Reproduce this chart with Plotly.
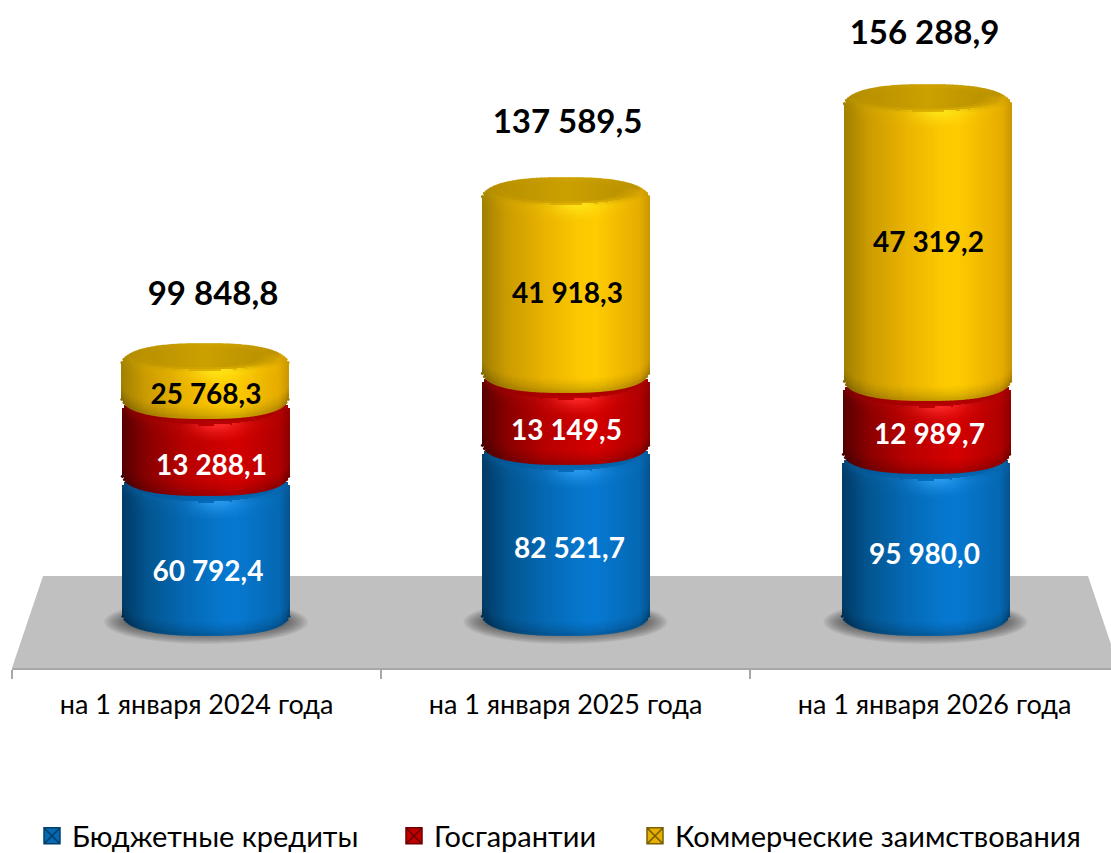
import numpy as np
import plotly.graph_objects as go

# ---------- data ----------
categories = ["на 1 января 2024 года", "на 1 января 2025 года", "на 1 января 2026 года"]
series_names = ["Бюджетные кредиты", "Госгарантии", "Коммерческие заимствования"]

# printed values
budget_loans = [60792.4, 82521.7, 95980.0]
guarantees = [13288.1, 13149.5, 12989.7]
commercial = [25768.3, 41918.3, 47319.2]
totals = [99848.8, 137589.5, 156288.9]

# The original picture is not drawn to scale (a 96k segment is shorter than an 82k one),
# so the segment heights are read off the picture separately, in axis units.
budget_drawn = [140, 171, 162]
guarantees_drawn = [77, 72, 73]
commercial_drawn = [74, 214, 315]

# ---------- styles / layout constants ----------
FONT = "Lato, 'Open Sans', 'Noto Sans', sans-serif"
W, H = 1111, 853
AXIS_PX = 668
LEFT_PX = 12
CAT_PX = 369
C0_PX = 196.5
BASE_Y = 33        # bottom of the stacks above the axis
HALF = 84          # half width of a cylinder
E = 24             # semi-minor axis of end ellipses
P = 2.5            # superellipse exponent of the silhouette
STRIP = 2
persp = [9.5, 0, -9]                       # perspective shift of each column
lean = [[0, -0.5, -1], [0, 0, 0], [0, 1, 2]]

palettes = [
    dict(stops=["#013a66", "#03558f", "#0569b4", "#0676cc", "#0779d2", "#0568b2", "#04528c"],
         cap="#0464ad", bright="#2a9cf0"),
    dict(stops=["#560000", "#8a0000", "#b80000", "#cc0000", "#d60000", "#b00000", "#8c0000"],
         cap="#b00000", bright="#ff2a2a"),
    dict(stops=["#a08000", "#cc9c00", "#eab400", "#fcc800", "#ffcc00", "#e6ac00", "#c89600"],
         cap="#cba000", bright="#ffe81a"),
]
stop_u = [-1.0, -0.7, -0.25, 0.15, 0.35, 0.88, 1.0]


def hex2rgb(h):
    return np.array([int(h[i:i + 2], 16) for i in (1, 3, 5)], float)


def horiz(pal, u):
    cols = np.array([hex2rgb(c) for c in pal["stops"]])
    return np.array([np.interp(u, stop_u, cols[:, k]) for k in range(3)])


def silhouette(u):
    return max(0.0, 1 - abs(u) ** P) ** (1 / P)


def shade(pal, u, y, yb, ci, a, bi):
    base = horiz(pal, u)
    capc = hex2rgb(pal["cap"]) * (0.88 + 0.12 * (1 - abs(u)))
    bright = hex2rgb(pal["bright"])
    col = base.copy()
    # bottom bevel
    db = y - yb
    if db < 14:
        col = col * (0.78 + 0.22 * (db / 14) ** 0.7)
    # front edge of the inner cap ellipse
    if abs(u) < a:
        y_front = ci - bi * np.sqrt(1 - (u / a) ** 2)
    else:
        y_front = ci
    if y > y_front - 18:
        r = np.hypot(u / a, (y - ci) / bi)
        if y >= ci:
            mix = 0.8 * np.clip((y - ci) / 4, 0, 1)     # upper back rim tends to cap colour
            col = col + (capc - col) * mix
        if y <= ci or r < 1:
            t = np.clip((1.15 - r) / 0.45, 0, 1)
            col = col + (capc - col) * t
        if y <= y_front + 3 and r >= 0.95:
            dt = max(0.0, y_front - y)
            k = max(0.0, 1 - dt / 18) ** 1.4
            glow = np.exp(-((u - 0.15) / 0.3) ** 2)
            col = col + (bright - col) * k * (0.85 * glow + 0.07)
    return col


def rgb(c):
    c = np.clip(c, 0, 255).astype(int)
    return f"rgb({c[0]},{c[1]},{c[2]})"


def segment_traces(ser_idx, lowest, top_y, rim, cx_unit, draw_top_edge):
    pal = palettes[ser_idx]
    cb = lowest + E
    ct = top_y - E
    a, bi = 0.9, rim / 2.0
    ci = top_y - bi
    xs, bases, hs, cols = [], [], [], []
    ex, ey, ec = [], [], []
    for px in np.arange(-HALF, HALF, STRIP):
        u = (px + STRIP / 2) / HALF
        s = silhouette(u)
        yb = round(cb - E * s)
        yt = round(ct + E * s)
        if abs(u) < a:
            y_front = ci - bi * np.sqrt(1 - (u / a) ** 2)
        else:
            y_front = ci
        ts = int(max(yb + 14, np.floor(y_front) - 20))
        edges = sorted({*range(int(yb), int(yb) + 14, 2), int(yb) + 14, *range(ts, int(yt), 2), int(yt)})
        edges = [e for e in edges if yb <= e <= yt]
        xc = cx_unit + (px + STRIP / 2) / CAT_PX
        for e0, e1 in zip(edges[:-1], edges[1:]):
            c = shade(pal, u, (e0 + e1) / 2, yb, ci, a, bi)
            xs.append(xc)
            bases.append(e0)
            hs.append(e1 - e0)
            cols.append(rgb(c))
        # anti-aliased dots along the visible edges
        ex.append(xc)
        ey.append(cb - E * s + 0.5)
        ec.append(rgb(shade(pal, u, cb - E * s + 1, cb - E * s, ci, a, bi)))
        if draw_top_edge:
            ex.append(xc)
            ey.append(ct + E * s - 0.5)
            ec.append(rgb(shade(pal, u, ct + E * s - 1, cb - E * s, ci, a, bi)))
    body = go.Bar(x=xs, y=hs, base=bases, width=STRIP / CAT_PX,
                  marker=dict(color=cols, line=dict(width=0)),
                  hoverinfo="skip", showlegend=False)
    edge = go.Scatter(x=ex, y=ey, mode="markers", marker=dict(size=3.2, color=ec, line=dict(width=0)),
                      hoverinfo="skip", showlegend=False)
    return body, edge


def fmt(v):
    return f"{v:,.1f}".replace(",", " ").replace(".", ",")


drawn = [budget_drawn, guarantees_drawn, commercial_drawn]
values = [budget_loans, guarantees, commercial]
fig = go.Figure()

shapes = []
# floor
to_x = lambda p: (p - C0_PX) / CAT_PX
to_y = lambda p: AXIS_PX - p
shapes.append(dict(type="path", layer="below", xref="x", yref="y", line=dict(width=0), fillcolor="#c0c0c0",
                   path=f"M {to_x(12)} 0 L {to_x(43)} {to_y(576)} L {to_x(1088)} {to_y(576)} L {to_x(1119)} 0 Z"))
# shadows under the stacks
for i in range(3):
    cx = i + persp[i] / CAT_PX
    for k in range(12):
        rx = 102 - k * 2.0
        ry = 22 - k * 1.0
        shapes.append(dict(type="circle", layer="below", xref="x", yref="y", line=dict(width=0),
                           fillcolor="#303030", opacity=0.075,
                           x0=cx - rx / CAT_PX, x1=cx + rx / CAT_PX, y0=46 - ry, y1=46 + ry))

lab_x, lab_y, lab_t, lab_c = [], [], [], []
# label nudges from the segment's lowest edge (x px, y px)
nudge = [[(2, 61), (6, 27), (1, 21)],
         [(4, 84), (1, 31), (2, 96)],
         [(-1, 78), (3, 36), (1, 155)]]
total_x_nudge = [7, 2, -1]
total_y_nudge = [47, 53, 49]

edge_traces = []
for i in range(3):
    cum = BASE_Y
    lows = []
    for s in range(3):
        lows.append(cum)
        cum += drawn[s][i]
    top = cum
    for s in range(3):
        cx = i + (persp[i] + lean[i][s]) / CAT_PX
        if s < 2:
            # lower cylinders continue below the next one
            seg_top = lows[s + 1] + 28
            rim = 36
        else:
            seg_top = top
            rim = 27
        body, edge = segment_traces(s, lows[s], seg_top, rim, cx, s == 2)
        fig.add_trace(body)
        edge_traces.append((s, edge))
        lab_x.append(cx + nudge[i][s][0] / CAT_PX)
        lab_y.append(lows[s] + nudge[i][s][1])
        lab_t.append(fmt(values[s][i]))
        lab_c.append("white" if s < 2 else "black")

# dots are drawn bottom-up so that each upper edge lies over the lower segment
for s, edge in sorted(edge_traces, key=lambda t: t[0]):
    fig.add_trace(edge)

fig.add_trace(go.Scatter(x=lab_x, y=lab_y, text=lab_t, mode="text", textposition="middle center",
                         textfont=dict(family=FONT, size=28, color=lab_c, weight="bold"),
                         hoverinfo="skip", showlegend=False, cliponaxis=False))
tot_x = [i + (persp[i] + total_x_nudge[i]) / CAT_PX for i in range(3)]
tot_y = [BASE_Y + sum(d[i] for d in drawn) + total_y_nudge[i] for i in range(3)]
fig.add_trace(go.Scatter(x=tot_x, y=tot_y, text=[fmt(v) for v in totals], mode="text",
                         textposition="middle center",
                         textfont=dict(family=FONT, size=33, color="black", weight="bold"),
                         hoverinfo="skip", showlegend=False, cliponaxis=False))

legend_colors = [("#0569b4", "#02406e"), ("#c00000", "#700000"), ("#e6b000", "#7a6000")]
for s, name in enumerate(series_names):
    fig.add_trace(go.Scatter(x=[None], y=[None], mode="markers", name=name,
                             legend="legend" if s == 0 else f"legend{s + 1}",
                             marker=dict(symbol="square-x", size=19, color=legend_colors[s][0],
                                         line=dict(color=legend_colors[s][1], width=1.5))))

legend_px = [32, 394, 635]
LEG_Y = (AXIS_PX - 836) / AXIS_PX
plot_w = W - LEFT_PX


def leg(px):
    return dict(x=(px - LEFT_PX) / plot_w, xanchor="left", y=LEG_Y, yanchor="middle",
                bgcolor="rgba(0,0,0,0)", borderwidth=0, itemclick=False, itemdoubleclick=False,
                font=dict(family=FONT, size=29, color="black"))


fig.update_layout(
    width=W, height=H, barmode="overlay", bargap=0,
    margin=dict(l=LEFT_PX, r=0, t=0, b=H - AXIS_PX, pad=0, autoexpand=False),
    paper_bgcolor="white", plot_bgcolor="white",
    shapes=shapes,
    legend=leg(legend_px[0]), legend2=leg(legend_px[1]), legend3=leg(legend_px[2]),
    xaxis=dict(range=[-0.5, (W - C0_PX) / CAT_PX], tickmode="array", tickvals=[0, 1, 2], ticktext=categories,
               showgrid=False, zeroline=False, showline=True, linecolor="#a8a8a8", linewidth=2,
               ticks="outside", ticklen=12, tickcolor="rgba(0,0,0,0)",
               tickfont=dict(family=FONT, size=27, color="black"),
               minor=dict(tickmode="array", tickvals=[-0.5, 0.5, 1.5], ticks="outside", ticklen=9,
                          tickwidth=2, tickcolor="#a8a8a8", showgrid=False)),
    yaxis=dict(range=[0, AXIS_PX], visible=False, showgrid=False, zeroline=False),
)
fig.write_html("out.html", config={"displayModeBar": False},
               post_script="document.body.style.margin='0';document.documentElement.style.overflow='hidden';")
